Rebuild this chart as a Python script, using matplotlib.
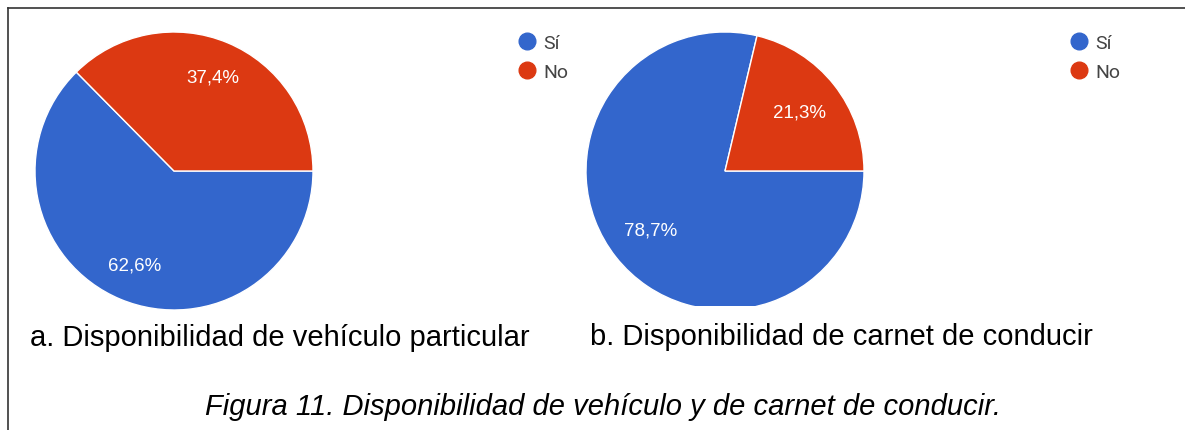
import matplotlib
matplotlib.use("Agg")
import matplotlib.pyplot as plt
from matplotlib.lines import Line2D

# Data
categories = ["Sí", "No"]
vehiculo_pct = [62.6, 37.4]
carnet_pct = [78.7, 21.3]
subtitle_a = "a. Disponibilidad de vehículo particular"
subtitle_b = "b. Disponibilidad de carnet de conducir"
caption = "Figura 11. Disponibilidad de vehículo y de carnet de conducir."

BLUE = "#3366CC"
RED = "#DC3912"
colors = [BLUE, RED]

W, H = 1185, 431
fig = plt.figure(figsize=(W / 100, H / 100), dpi=100)
plt.rcParams['font.family'] = ['Liberation Sans', 'DejaVu Sans']

def px_axes(x0, y0, x1, y1):
    return fig.add_axes([x0 / W, 1 - y1 / H, (x1 - x0) / W, (y1 - y0) / H])

def fmt(p):
    return f"{p:.1f}%".replace(".", ",")

def draw_pie(ax, vals, pctdist, ylow):
    wedges, texts, autotexts = ax.pie(
        vals, colors=colors, startangle=0, counterclock=False,
        autopct=fmt, pctdistance=pctdist,
        wedgeprops=dict(edgecolor="white", linewidth=1.0),
        textprops=dict(color="white", fontsize=13.5, family=['Liberation Sans', 'DejaVu Sans']))
    for w in wedges:
        w.set_clip_on(True)
    ax.set_xlim(-1, 1)
    ax.set_ylim(ylow, 1)
    ax.set_aspect("equal", adjustable="datalim")
    ax.set_xlim(-1, 1)
    ax.set_ylim(ylow, 1)
    ax.axis("off")
    return wedges

axL = px_axes(35, 33, 313, 311)
wL = draw_pie(axL, vehiculo_pct, 0.73, -1)

axR = px_axes(586, 33, 864, 307)
wR = draw_pie(axR, carnet_pct, 0.68, 1 - 274 / 139)

def add_legend(x, y):
    handles = [Line2D([], [], marker="o", linestyle="none", markersize=12,
                      markerfacecolor=c, markeredgecolor=c) for c in colors]
    fig.legend(handles, categories, loc="upper left",
               bbox_to_anchor=(x / W, 1 - y / H), frameon=False,
               borderpad=0, borderaxespad=0, handlelength=1.0,
               handletextpad=0.35, labelspacing=0.55,
               prop=dict(family=['Roboto', 'DejaVu Sans'], size=14),
               labelcolor="#444444")

add_legend(517, 35)
add_legend(1069, 35)

fig.text(30 / W, 1 - 338 / H, subtitle_a, fontsize=21, ha="left", va="center", color="black")
fig.text(590 / W, 1 - 337 / H, subtitle_b, fontsize=21, ha="left", va="center", color="black")
fig.text(603 / W, 1 - 407 / H, caption, fontsize=21, ha="center", va="center",
         style="italic", color="black")

# border (top and left)
fig.add_artist(Line2D([8 / W, 1], [1 - 9 / H, 1 - 9 / H], transform=fig.transFigure,
                      color="#333333", linewidth=1.2))
fig.add_artist(Line2D([8 / W, 8 / W], [0, 1 - 9 / H], transform=fig.transFigure,
                      color="#333333", linewidth=1.2))

fig.savefig("out.png", dpi=100)
